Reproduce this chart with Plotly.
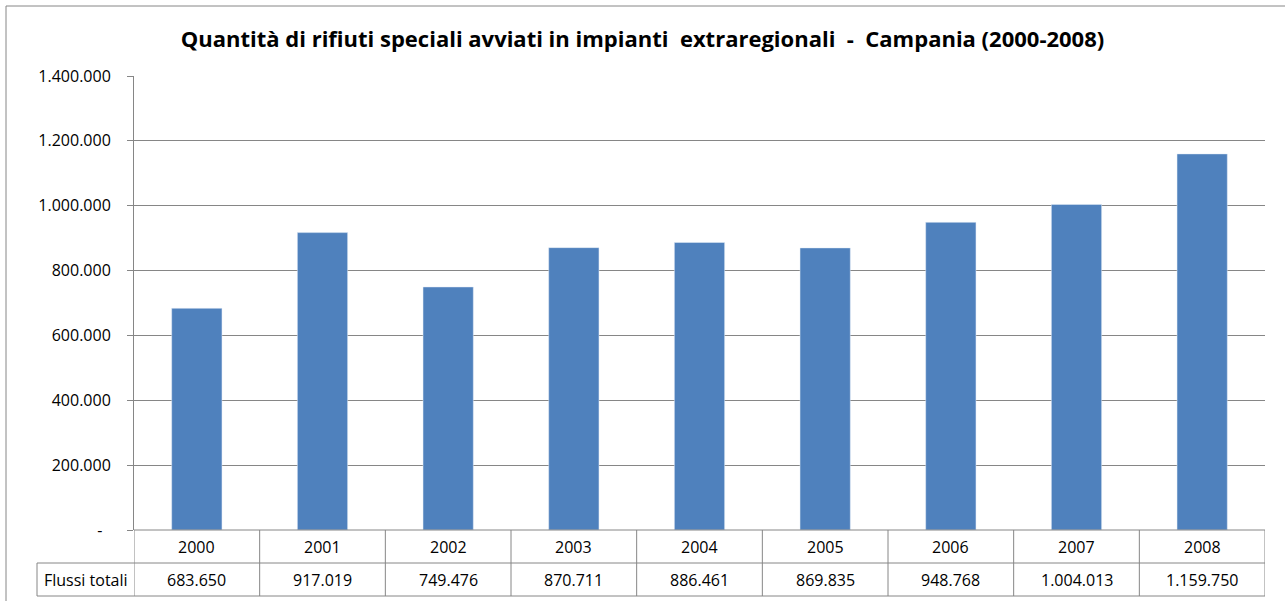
import plotly.graph_objects as go

# data
anni = ["2000", "2001", "2002", "2003", "2004", "2005", "2006", "2007", "2008"]
flussi_totali = [683650, 917019, 749476, 870711, 886461, 869835, 948768, 1004013, 1159750]
y_ticks = [0, 200000, 400000, 600000, 800000, 1000000, 1200000, 1400000]
riga_label = "Flussi totali"
titolo = "Quantità di rifiuti speciali avviati in impianti  extraregionali  -  Campania (2000-2008)"


def fmt_it(v):
    return f"{v:,}".replace(",", ".")


W, H = 1285, 601
L, R, T, B = 134, 20, 76, 71
plot_w = W - L - R
plot_h = H - T - B
GRAY = "#868686"
FONT = "Open Sans, Lato, sans-serif"


def px_y(py):  # pixel row -> paper y
    return (H - B - py) / plot_h


def px_x(px):  # pixel col -> paper x
    return (px - L) / plot_w


row1_mid, row2_mid = px_y(547), px_y(580)
row_line1, row_line2 = px_y(563), px_y(596)

fig = go.Figure()
fig.add_trace(go.Bar(x=anni, y=flussi_totali, marker=dict(color="#4F81BD"), width=0.4))

shapes = []
# outer frame
shapes.append(dict(type="rect", xref="paper", yref="paper", x0=px_x(6), x1=px_x(1295),
                   y0=px_y(610), y1=px_y(6), line=dict(color=GRAY, width=1)))
# table horizontal lines
shapes.append(dict(type="line", xref="paper", yref="paper", x0=0, x1=1, y0=0, y1=0,
                   line=dict(color=GRAY, width=1)))
for yy in (row_line1, row_line2):
    shapes.append(dict(type="line", xref="paper", yref="paper", x0=px_x(37), x1=1, y0=yy, y1=yy,
                       line=dict(color=GRAY, width=1)))
# left label cell border
shapes.append(dict(type="line", xref="paper", yref="paper", x0=px_x(37), x1=px_x(37),
                   y0=row_line1, y1=row_line2, line=dict(color=GRAY, width=1)))
# column separators
for i in range(len(anni) + 1):
    shapes.append(dict(type="line", xref="x", yref="paper", x0=i - 0.5, x1=i - 0.5,
                       y0=0, y1=row_line2, line=dict(color=GRAY, width=1)))

cell_font = dict(size=16, color="#000000", family=FONT)
annotations = []
for i, (a, v) in enumerate(zip(anni, flussi_totali)):
    annotations.append(dict(x=i, y=row1_mid, xref="x", yref="paper", text=a, showarrow=False,
                            xanchor="center", yanchor="middle", font=cell_font))
    annotations.append(dict(x=i, y=row2_mid, xref="x", yref="paper", text=fmt_it(v), showarrow=False,
                            xanchor="center", yanchor="middle", font=cell_font))
annotations.append(dict(x=px_x(85.5), y=row2_mid, xref="paper", yref="paper", text=riga_label,
                        showarrow=False, xanchor="center", yanchor="middle", font=cell_font))

fig.update_layout(
    width=W, height=H,
    margin=dict(l=L, r=R, t=T, b=B),
    plot_bgcolor="#ffffff", paper_bgcolor="#ffffff",
    showlegend=False,
    title=dict(text="<b>" + titolo + "</b>", x=0.5, xref="container", xanchor="center",
               y=1 - 39 / H, yanchor="middle",
               font=dict(family=FONT, size=22, color="#000000")),
    font=dict(family=FONT, size=16, color="#000000"),
    xaxis=dict(type="category", range=[-0.5, len(anni) - 0.5], showticklabels=False,
               showgrid=False, showline=False, zeroline=False, ticks=""),
    yaxis=dict(range=[0, 1400000], tickvals=y_ticks,
               ticktext=[fmt_it(v) if v else "-\u00a0\u00a0" for v in y_ticks],
               showgrid=True, gridcolor=GRAY, gridwidth=1, zeroline=False,
               showline=True, linecolor=GRAY, linewidth=1,
               ticks="outside", ticklen=6, tickcolor=GRAY, ticklabelstandoff=13,
               tickfont=dict(size=16, family=FONT)),
    shapes=shapes,
    annotations=annotations,
)

fig.write_html("out.html", config={"displayModeBar": False},
               post_script="document.body.style.margin='0';")
